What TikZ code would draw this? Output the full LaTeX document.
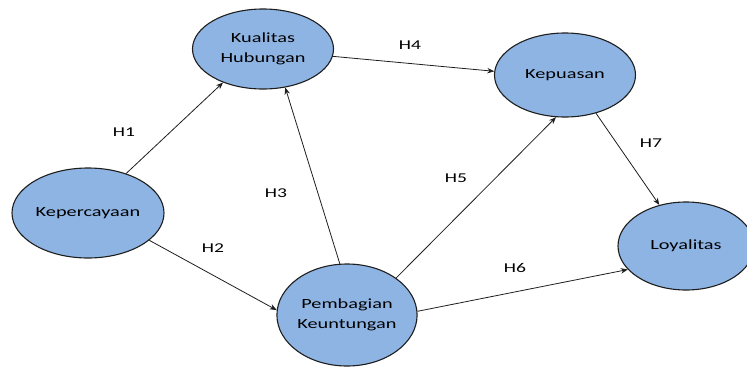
\documentclass[tikz,border=0pt]{standalone}
\usepackage{fontspec}
\setmainfont[FakeStretch=1.45]{Carlito}
\usetikzlibrary{shapes.geometric,arrows.meta}
\definecolor{varfill}{RGB}{142,180,227}
\definecolor{varline}{RGB}{30,30,30}
\tikzset{
  var/.style={ellipse, draw=varline, line width=1.1pt, fill=varfill,
    inner sep=0pt, align=center, font=\fontsize{14}{19.5}\selectfont},
  path/.style={draw=varline, line width=0.8pt,
    -{Stealth[length=7pt,width=5.5pt]}},
  hyp/.style={font=\fontsize{13.5}{15}\selectfont}
}
\begin{document}
\begin{tikzpicture}[x=1pt,y=-1pt]
  \useasboundingbox (0,0) rectangle (747,367);
  % latent variables
  \node[var, minimum width=141pt, minimum height=80pt] (kh) at (263,49) {Kualitas\\Hubungan};
  \node[var, minimum width=141pt, minimum height=84pt] (kp) at (565,75) {Kepuasan};
  \node[var, minimum width=152pt, minimum height=90pt] (kep) at (88,213) {Kepercayaan};
  \node[var, minimum width=139pt, minimum height=102pt] (pk) at (347,315) {Pembagian\\Keuntungan};
  \node[var, minimum width=136pt, minimum height=88pt] (loy) at (686,246) {Loyalitas};
  % hypothesised paths
  \draw[path] (kep.46) -- (kh.-140);
  \draw[path] (kep.-24) -- (pk.176);
  \draw[path] (pk.98) -- (kh.-60);
  \draw[path] (kh.-6) -- (kp.177);
  \draw[path] (pk.37) -- (kp.-102);
  \draw[path] (pk.3) -- (loy.202);
  \draw[path] (kp.-51) -- (loy.123);
  % path labels
  \node[hyp] (h1) at (124,132) {H1};
  \node[hyp] (h2) at (213,248) {H2};
  \node[hyp] (h3) at (276,193) {H3};
  \node[hyp] (h4) at (410,45) {H4};
  \node[hyp] (h5) at (456,178) {H5};
  \node[hyp] (h6) at (515,268) {H6};
  \node[hyp] (h7) at (651,143) {H7};
\end{tikzpicture}
\end{document}
